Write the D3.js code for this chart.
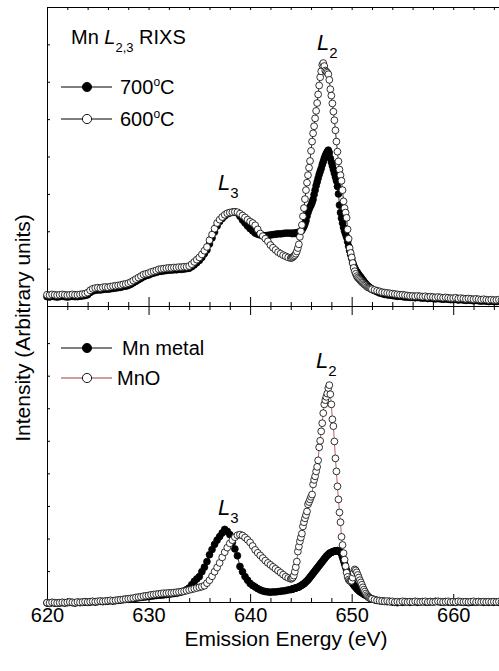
<!DOCTYPE html>
<html>
<head>
<meta charset="utf-8">
<script src="https://cdn.jsdelivr.net/npm/d3@7"></script>
<style>
body { margin: 0; background: #fff; }
text { font-family: "Liberation Sans", Arial, Helvetica, sans-serif; fill: #000; }
</style>
</head>
<body>
<svg id="chart" width="499" height="671"></svg>
<script>
// sampling grid of the spectra: 0.25 eV steps, 0.1 eV across the L2 line
const energyLow = d3.range(96).map(i => 620 + i * 0.25);   // 620 .. 643.75
const energyPeak = d3.range(80).map(i => 644 + i * 0.1);   // 644 .. 651.9
const energyHigh = d3.range(53).map(i => 652 + i * 0.25);  // 652 .. 665
const energy = energyLow.concat(energyPeak, energyHigh);

// upper panel, 700 C (filled)
const top700 = [
  0.25,0.24,0.26,0.25,0.24,0.25,0.26,0.25,0.24,0.25,0.26,0.25,0.25,0.26,0.27,0.28,
  0.30,0.36,0.40,0.42,0.43,0.43,0.44,0.45,0.45,0.46,0.47,0.48,0.49,0.50,0.52,0.53,
  0.55,0.58,0.62,0.66,0.70,0.74,0.78,0.81,0.83,0.86,0.88,0.90,0.92,0.93,0.94,0.95,
  0.96,0.96,0.97,0.97,0.98,0.98,0.99,1.00,1.01,1.05,1.10,1.16,1.22,1.30,1.40,1.50,
  1.66,1.82,1.98,2.14,2.26,2.34,2.41,2.46,2.49,2.51,2.51,2.49,2.40,2.30,2.22,2.14,
  2.07,2.01,1.95,1.92,1.90,1.89,1.88,1.89,1.90,1.91,1.92,1.93,1.93,1.94,1.95,1.95,
  1.95,1.94,1.94,1.95,1.94,1.95,1.96,1.96,1.97,1.99,
  2.00,2.03,2.08,2.13,2.20,2.28,2.40,2.50,2.58,2.65,
  2.70,2.77,2.85,2.98,3.10,3.22,3.32,3.42,3.52,3.60,
  3.68,3.78,3.86,3.95,4.02,4.08,4.13,4.17,4.10,3.95,
  3.85,3.75,3.65,3.55,3.45,3.35,3.20,3.00,2.70,2.50,
  2.35,2.22,2.10,2.00,1.92,1.84,1.72,1.60,1.48,1.38,
  1.28,1.17,1.08,1.02,0.96,0.92,0.88,0.84,0.80,0.77,
  0.73,0.69,0.66,0.62,0.59,0.56,0.53,0.51,0.49,0.47,
  0.44,0.41,0.38,0.35,0.33,0.31,0.30,0.29,0.28,0.27,0.26,0.26,0.25,0.24,0.24,0.23,
  0.23,0.22,0.23,0.22,0.21,0.22,0.20,0.21,0.20,0.19,0.20,0.19,0.18,0.19,0.18,0.17,
  0.17,0.18,0.16,0.17,0.16,0.15,0.16,0.15,0.14,0.15,0.14,0.13,0.14,0.13,0.12,0.13,
  0.12,0.12,0.13,0.12,0.12
];

// upper panel, 600 C (open)
const top600 = [
  0.30,0.29,0.31,0.30,0.29,0.30,0.31,0.30,0.29,0.30,0.31,0.30,0.30,0.31,0.32,0.33,
  0.36,0.42,0.46,0.48,0.49,0.48,0.50,0.51,0.50,0.52,0.53,0.54,0.55,0.56,0.58,0.59,
  0.61,0.64,0.68,0.72,0.76,0.80,0.84,0.86,0.88,0.91,0.93,0.95,0.98,0.99,1.00,1.01,
  1.02,1.02,1.03,1.03,1.04,1.04,1.05,1.05,1.07,1.12,1.18,1.24,1.30,1.38,1.48,1.58,
  1.76,1.91,2.07,2.22,2.31,2.38,2.44,2.48,2.50,2.51,2.52,2.51,2.47,2.42,2.37,2.31,
  2.26,2.22,2.16,2.05,1.94,1.87,1.80,1.73,1.63,1.56,1.50,1.44,1.40,1.36,1.33,1.30,
  1.28,1.29,1.31,1.33,1.36,1.40,1.46,1.55,1.65,1.85,
  2.00,2.17,2.40,2.62,2.86,3.10,3.30,3.50,3.70,3.88,
  4.15,4.40,4.62,4.81,5.02,5.22,5.43,5.66,5.90,6.12,
  6.28,6.45,6.50,6.42,6.30,6.27,6.24,6.20,6.05,5.80,
  5.63,5.42,5.20,4.97,4.70,4.40,4.13,3.87,3.65,3.50,
  3.35,3.10,2.80,2.62,2.50,2.36,2.05,1.80,1.55,1.42,
  1.30,1.15,1.02,0.93,0.86,0.80,0.76,0.73,0.70,0.67,
  0.64,0.62,0.59,0.57,0.55,0.52,0.50,0.49,0.48,0.47,
  0.45,0.43,0.41,0.39,0.37,0.36,0.35,0.34,0.33,0.32,0.31,0.30,0.30,0.29,0.28,0.27,
  0.27,0.26,0.27,0.26,0.25,0.26,0.24,0.25,0.24,0.23,0.24,0.23,0.22,0.23,0.22,0.21,
  0.21,0.22,0.20,0.21,0.20,0.19,0.20,0.19,0.18,0.19,0.18,0.17,0.18,0.17,0.16,0.17,
  0.16,0.16,0.17,0.16,0.16
];

// lower panel, Mn metal (filled)
const mnMetal = [
  0.02,0.01,0.03,0.02,0.01,0.02,0.03,0.02,0.03,0.04,0.03,0.02,0.04,0.03,0.04,0.05,
  0.04,0.05,0.06,0.05,0.06,0.07,0.06,0.07,0.08,0.09,0.08,0.09,0.10,0.11,0.12,0.13,
  0.13,0.14,0.15,0.17,0.18,0.19,0.20,0.21,0.22,0.23,0.24,0.25,0.26,0.26,0.27,0.28,
  0.29,0.30,0.31,0.32,0.34,0.36,0.39,0.43,0.48,0.58,0.68,0.76,0.83,0.98,1.12,1.29,
  1.50,1.66,1.82,1.95,2.06,2.17,2.28,2.22,2.12,1.88,1.68,1.47,1.14,0.98,0.83,0.72,
  0.62,0.56,0.51,0.46,0.42,0.39,0.37,0.36,0.35,0.36,0.36,0.37,0.38,0.39,0.40,0.42,
  0.43,0.44,0.45,0.46,0.47,0.48,0.49,0.50,0.51,0.53,
  0.55,0.57,0.59,0.61,0.64,0.67,0.70,0.73,0.77,0.81,
  0.85,0.89,0.93,0.97,1.01,1.05,1.09,1.13,1.17,1.21,
  1.25,1.29,1.33,1.37,1.41,1.45,1.48,1.51,1.54,1.56,
  1.57,1.59,1.60,1.61,1.62,1.62,1.63,1.62,1.60,1.57,
  1.52,1.42,1.32,1.22,1.12,1.02,0.92,0.84,0.77,0.71,
  0.66,0.62,0.57,0.53,0.50,0.46,0.43,0.40,0.37,0.35,
  0.34,0.31,0.29,0.27,0.26,0.24,0.22,0.19,0.17,0.15,
  0.14,0.12,0.10,0.09,0.08,0.07,0.06,0.07,0.05,0.04,0.03,0.05,0.04,0.06,0.05,0.04,
  0.05,0.06,0.04,0.05,0.06,0.05,0.04,0.06,0.05,0.07,0.06,0.05,0.04,0.06,0.05,0.04,
  0.05,0.04,0.06,0.05,0.04,0.05,0.03,0.04,0.05,0.04,0.06,0.05,0.04,0.05,0.04,0.05,
  0.04,0.05,0.04,0.05,0.04
];

// lower panel, MnO (open)
const mnO = [
  0.03,0.02,0.04,0.03,0.02,0.03,0.04,0.03,0.04,0.05,0.04,0.03,0.05,0.04,0.05,0.06,
  0.05,0.06,0.07,0.06,0.07,0.08,0.07,0.08,0.09,0.10,0.09,0.10,0.11,0.12,0.13,0.14,
  0.15,0.16,0.17,0.19,0.20,0.21,0.23,0.24,0.25,0.27,0.28,0.29,0.30,0.31,0.32,0.32,
  0.33,0.33,0.34,0.35,0.36,0.37,0.38,0.40,0.42,0.44,0.46,0.48,0.50,0.52,0.55,0.63,
  0.72,0.84,0.98,1.11,1.25,1.42,1.58,1.72,1.85,1.95,2.04,2.10,2.12,2.09,2.03,1.96,
  1.88,1.77,1.65,1.56,1.48,1.40,1.32,1.25,1.19,1.13,1.07,1.01,0.95,0.89,0.83,0.79,
  0.76,0.77,0.80,0.86,0.98,1.12,1.29,1.60,1.75,1.91,
  2.03,2.15,2.37,2.50,2.62,2.72,2.83,3.05,3.12,3.20,
  3.28,3.35,3.66,3.80,3.91,4.06,4.20,4.40,4.80,5.00,
  5.29,5.54,5.85,6.12,6.25,6.35,6.45,6.62,6.71,6.43,
  6.12,5.66,5.45,4.98,4.46,4.06,3.60,3.20,2.80,2.50,
  2.05,1.80,1.55,1.35,1.15,0.95,0.82,0.74,0.70,0.69,
  0.70,0.80,0.95,1.05,1.02,0.96,0.88,0.80,0.72,0.65,
  0.58,0.50,0.43,0.37,0.31,0.26,0.22,0.19,0.17,0.15,
  0.15,0.12,0.10,0.09,0.08,0.07,0.08,0.06,0.07,0.05,0.06,0.05,0.07,0.06,0.05,0.06,
  0.05,0.07,0.06,0.05,0.06,0.07,0.05,0.06,0.05,0.06,0.07,0.06,0.05,0.06,0.07,0.05,
  0.06,0.05,0.07,0.06,0.05,0.06,0.05,0.06,0.07,0.05,0.06,0.05,0.06,0.05,0.06,0.05,
  0.06,0.05,0.06,0.05,0.06
];

const xTicks = [620, 630, 640, 650, 660];
const xMinorTicks = [622, 624, 626, 628, 632, 634, 636, 638, 642, 644, 646, 648, 652, 654, 656, 658, 662, 664];
const topYTicks = [1, 2, 3, 4, 5, 6, 7];
const bottomYTicks = [1, 2, 3, 4, 5, 6, 7, 8];

const svg = d3.select("#chart");
const plotLeft = 47, plotRight = 504, plotTop = 7, plotMid = 306, plotBottom = 602;
const font = 20;

const x = d3.scaleLinear().domain([620, 665]).range([plotLeft, plotRight]);
const yTop = d3.scaleLinear().domain([0, 8]).range([plotMid, plotTop]);
const yBot = d3.scaleLinear().domain([0.05, 9.14]).range([plotBottom, plotMid]);

function addAxis(axis, tx, ty) {
    let g = svg.append("g")
        .attr("transform", "translate(" + tx + "," + ty + ")")
        .call(axis);
    g.selectAll("path, line").attr("stroke", "#000").attr("stroke-width", 1);
    g.selectAll("text").attr("font-size", font);
    g.attr("font-family", null).attr("font-size", null);
    return g;
}

// bottom axis with labels, ticks pointing up
addAxis(d3.axisBottom(x).tickValues(xTicks).tickSize(-8).tickSizeOuter(0).tickPadding(6).tickFormat(d3.format("d")), 0, plotBottom);
addAxis(d3.axisBottom(x).tickValues(xMinorTicks).tickSize(-4).tickSizeOuter(0).tickFormat(""), 0, plotBottom);

// shared middle axis: ticks into both panels
addAxis(d3.axisBottom(x).tickValues(xTicks).tickSize(-9).tickSizeOuter(0).tickFormat(""), 0, plotMid);
addAxis(d3.axisBottom(x).tickValues(xMinorTicks).tickSize(-4).tickSizeOuter(0).tickFormat(""), 0, plotMid);
addAxis(d3.axisTop(x).tickValues(xTicks).tickSize(-9).tickSizeOuter(0).tickFormat(""), 0, plotMid);
addAxis(d3.axisTop(x).tickValues(xMinorTicks).tickSize(-4).tickSizeOuter(0).tickFormat(""), 0, plotMid);

// top frame
addAxis(d3.axisTop(x).tickValues(xTicks.concat(xMinorTicks)).tickSize(-3).tickSizeOuter(0).tickFormat(""), 0, plotTop);

// left axes
addAxis(d3.axisLeft(yTop).tickValues(topYTicks).tickSize(-3).tickSizeOuter(0).tickFormat(""), plotLeft, 0);
addAxis(d3.axisLeft(yBot).tickValues(bottomYTicks).tickSize(-3).tickSizeOuter(0).tickFormat(""), plotLeft, 0);

function drawSeries(values, y, filled, lineColor) {
    let data = energy.map((e, i) => ({e: e, v: values[i]}));
    let line = d3.line().x(d => x(d.e)).y(d => y(d.v));
    svg.append("path")
        .datum(data)
        .attr("d", line)
        .attr("fill", "none")
        .attr("stroke", lineColor)
        .attr("stroke-width", 0.8);
    svg.append("g").selectAll("circle")
        .data(data)
        .enter().append("circle")
        .attr("cx", d => x(d.e))
        .attr("cy", d => y(d.v))
        .attr("r", 3.4)
        .attr("fill", filled ? "#000" : "#fff")
        .attr("stroke", "#000")
        .attr("stroke-width", 0.8);
}

drawSeries(top700, yTop, true, "#000");
drawSeries(top600, yTop, false, "#000");
drawSeries(mnMetal, yBot, true, "#000");
drawSeries(mnO, yBot, false, "#a33a3a");

// legends
function legendRow(cy, filled, lineColor, label, tx, degrees) {
    svg.append("line")
        .attr("x1", 61).attr("x2", 112).attr("y1", cy).attr("y2", cy)
        .attr("stroke", lineColor).attr("stroke-width", 1);
    svg.append("circle")
        .attr("cx", 87).attr("cy", cy).attr("r", 4.6)
        .attr("fill", filled ? "#000" : "#fff")
        .attr("stroke", "#000").attr("stroke-width", 0.9);
    let t = svg.append("text").attr("x", tx).attr("y", cy + 7).attr("font-size", font);
    if (degrees) {
        t.append("tspan").text(label);
        t.append("tspan").attr("font-size", 12).attr("dy", -8).text("o");
        t.append("tspan").attr("dy", 8).text("C");
    } else {
        t.text(label);
    }
}

let title = svg.append("text").attr("x", 71).attr("y", 44).attr("font-size", font);
title.append("tspan").text("Mn ");
title.append("tspan").attr("font-style", "italic").text("L");
title.append("tspan").attr("font-size", 13).attr("dy", 8).text("2,3");
title.append("tspan").attr("dy", -8).text(" RIXS");

legendRow(87, true, "#000", "700", 120, true);
legendRow(119, false, "#000", "600", 120, true);
legendRow(348, true, "#000", "Mn metal", 122, false);
legendRow(378, false, "#a33a3a", "MnO", 117, false);

// peak labels
function peakLabel(px, py, sub) {
    let t = svg.append("text").attr("x", px).attr("y", py).attr("font-size", 22);
    t.append("tspan").attr("font-style", "italic").text("L");
    t.append("tspan").attr("font-size", 15).attr("dy", 8).text(sub);
}
peakLabel(317, 50, "2");
peakLabel(218, 190, "3");
peakLabel(316, 368, "2");
peakLabel(218, 515, "3");

// axis titles
svg.append("text")
    .attr("x", 286).attr("y", 646)
    .attr("text-anchor", "middle")
    .attr("font-size", 21)
    .text("Emission Energy (eV)");

svg.append("text")
    .attr("transform", "translate(30,328) rotate(-90)")
    .attr("text-anchor", "middle")
    .attr("font-size", 21)
    .text("Intensity (Arbitrary units)");
</script>
</body>
</html>
